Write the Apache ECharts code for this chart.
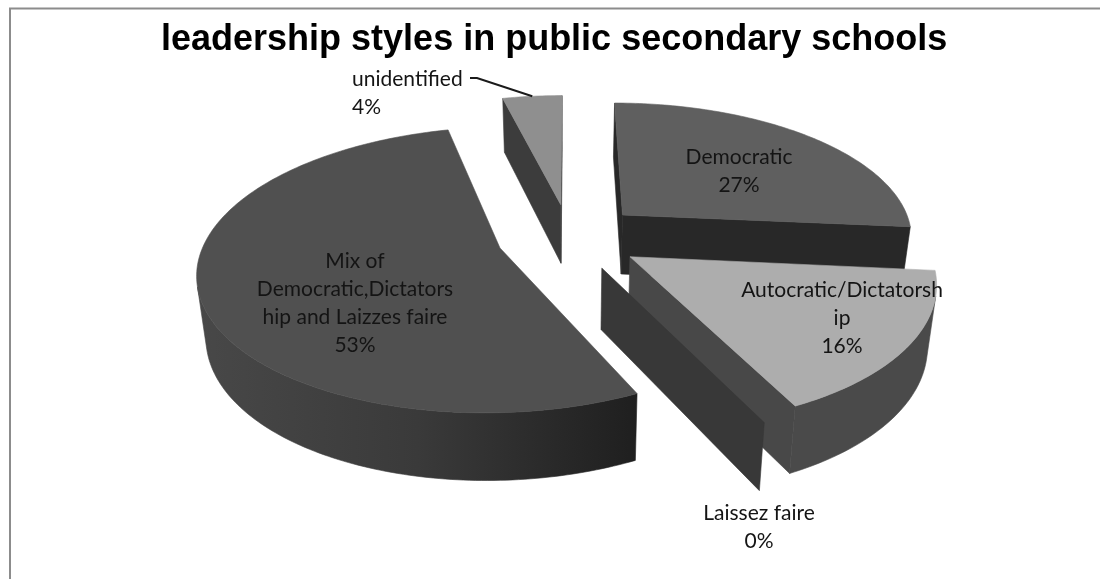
<!DOCTYPE html>
<html>
<head>
<meta charset="utf-8">
<style>html,body{margin:0;padding:0;background:#fff}#chart{width:1100px;height:579px}</style>
<script src="https://cdn.jsdelivr.net/npm/echarts@6/dist/echarts.min.js"></script>
</head>
<body>
<div id="chart"></div>
<script>
// Share of schools per leadership style, in clockwise pie order from 12 o'clock.
const categories = ['Democratic', 'Autocratic/Dictatorship', 'Laissez faire', 'Mix of Democratic,Dictatorship and Laizzes faire', 'unidentified'];
const shares = [27, 16, 0, 53, 4];
const labelLines = [
  ['Democratic'],
  ['Autocratic/Dictatorsh', 'ip'],
  ['Laissez faire'],
  ['Mix of', 'Democratic,Dictators', 'hip and Laizzes faire'],
  ['unidentified']
];

// Back-to-front paint order and per-slice shading.
const paintOrder = [4, 0, 1, 2, 3];
const topColors = ['#5f5f5f', '#adadad', '#383838', '#505050', '#8f8f8f'];
const cutColors = ['#282828', '#484848', '#383838', '#333333', '#3c3c3c'];
const rimColors = ['#2c2c2c', '#4a4a4a', '#383838', null, '#3c3c3c'];
const labelPlacement = [
  { x: 739, y: 143, align: 'center' },
  { x: 842, y: 276, align: 'center' },
  { x: 759, y: 499, align: 'center' },
  { x: 355, y: 247, align: 'center' },
  { x: 352, y: 65, align: 'left' }
];

// Perspective projection of the exploded, extruded pie.
const view = { cx: 569.5, cy: 232, rx: 291, ry: 134, persp: 0.181, depth: 60, depthPersp: 0.55, taper: 0.975, explode: 0.25, apexDrop: 4.5 };
const total = shares.reduce((a, b) => a + b, 0);

function project(x, y, z, apex) {
  const w = 1 + view.persp * y;
  const sx = z ? view.taper : 1;
  return [
    view.cx + view.rx * x * sx / w,
    view.cy + (apex ? view.apexDrop : 0) - view.ry * y / w + z * view.depth / Math.pow(w, view.depthPersp)
  ];
}

function sliceAngles(i) {
  let a = 0;
  for (let k = 0; k < i; k++) a += shares[k] / total * 2 * Math.PI;
  return [a, a + shares[i] / total * 2 * Math.PI];
}

function sliceGeometry(i) {
  const [a0, a1] = sliceAngles(i);
  const mid = (a0 + a1) / 2;
  const ox = view.explode * Math.sin(mid), oy = view.explode * Math.cos(mid);
  const rim = t => [ox + Math.sin(t), oy + Math.cos(t)];
  const steps = Math.max(1, Math.ceil((a1 - a0) / (Math.PI / 180)));
  const ts = [];
  for (let s = 0; s <= steps; s++) ts.push(a0 + (a1 - a0) * s / steps);
  return { a0, a1, mid, ox, oy, rim, ts };
}

function signedArea(p) {
  let a = 0;
  for (let i = 0; i < p.length; i++) {
    const q = p[(i + 1) % p.length];
    a += p[i][0] * q[1] - q[0] * p[i][1];
  }
  return a / 2;
}

function polygon(points, fill) {
  return { type: 'polygon', shape: { points }, style: { fill, stroke: fill, lineWidth: 0.6 }, silent: true };
}

function renderSlice(params, api) {
  const i = api.value(0);
  const g = sliceGeometry(i);
  const children = [];
  const apexT = project(g.ox, g.oy, 0, true), apexB = project(g.ox, g.oy, 1, true);

  // Radial cut faces: keep the ones turned toward the viewer.
  [[g.a0, 1], [g.a1, -1]].forEach(([t, dir]) => {
    const r = g.rim(t);
    const quad = [apexT, project(r[0], r[1], 0), project(r[0], r[1], 1), apexB];
    if (signedArea(quad) * dir < 0) children.push(polygon(quad, cutColors[i]));
  });

  // Curved outer wall, one polygon per visible run.
  if (shares[i] > 0) {
    let top = [], bottom = [];
    const flush = () => {
      if (top.length > 1) {
        const xs = top.concat(bottom).map(p => p[0]);
        const fill = rimColors[i] || {
          type: 'linear', x: Math.min(...xs), y: 0, x2: Math.max(...xs), y2: 0, global: true,
          colorStops: [{ offset: 0, color: '#484848' }, { offset: 0.5, color: '#3a3a3a' }, { offset: 1, color: '#1f1f1f' }]
        };
        children.push(polygon(top.concat(bottom.reverse()), fill));
      }
      top = []; bottom = [];
    };
    for (let s = 0; s < g.ts.length - 1; s++) {
      const r0 = g.rim(g.ts[s]), r1 = g.rim(g.ts[s + 1]);
      const a = project(r0[0], r0[1], 0), b = project(r1[0], r1[1], 0);
      const c = project(r1[0], r1[1], 1), d = project(r0[0], r0[1], 1);
      if (signedArea([a, b, c, d]) < 0) {
        if (!top.length) { top.push(a); bottom.push(d); }
        top.push(b); bottom.push(c);
      } else flush();
    }
    flush();

    // Top surface.
    const face = [apexT].concat(g.ts.map(t => { const r = g.rim(t); return project(r[0], r[1], 0); }));
    children.push(polygon(face, topColors[i]));
  }
  return { type: 'group', children };
}

function renderLabel(params, api) {
  const i = api.value(0);
  const pos = labelPlacement[i];
  const lines = labelLines[i].concat(shares[i] + '%');
  const children = [{
    type: 'text', silent: true,
    style: {
      text: lines.join('\n'), x: pos.x, y: pos.y, align: pos.align, verticalAlign: 'top',
      font: '21px Lato', lineHeight: 28, fill: '#141414'
    }
  }];
  if (i === 4) {
    // Leader from the label to the rim of the smallest slice.
    const g = sliceGeometry(i);
    const r = g.rim(g.mid);
    children.push({
      type: 'polyline', silent: true,
      shape: { points: [[470, 78], [477, 78], project(r[0], r[1], 0)] },
      style: { stroke: '#1a1a1a', lineWidth: 2, fill: null }
    });
  }
  return { type: 'group', children };
}

const chart = echarts.init(document.getElementById('chart'), null, { renderer: 'canvas' });
chart.setOption({
  animation: false,
  backgroundColor: '#ffffff',
  title: {
    text: 'leadership styles in public secondary schools',
    left: 156, top: 17,
    textStyle: { fontFamily: 'Liberation Sans', fontWeight: 'bold', fontSize: 36, color: '#000000' }
  },
  graphic: [{
    type: 'polyline', silent: true,
    shape: { points: [[10, 579], [10, 8.5], [1100, 8.5]] },
    style: { stroke: '#8c8c8c', lineWidth: 2, fill: null }
  }],
  series: [
    { type: 'custom', coordinateSystem: 'none', silent: true, z: 2, renderItem: renderSlice,
      data: paintOrder.map(i => ({ name: categories[i], value: [i, shares[i]] })) },
    { type: 'custom', coordinateSystem: 'none', silent: true, z: 3, renderItem: renderLabel,
      data: paintOrder.map(i => ({ name: categories[i], value: [i, shares[i]] })) }
  ]
});
</script>
</body>
</html>
